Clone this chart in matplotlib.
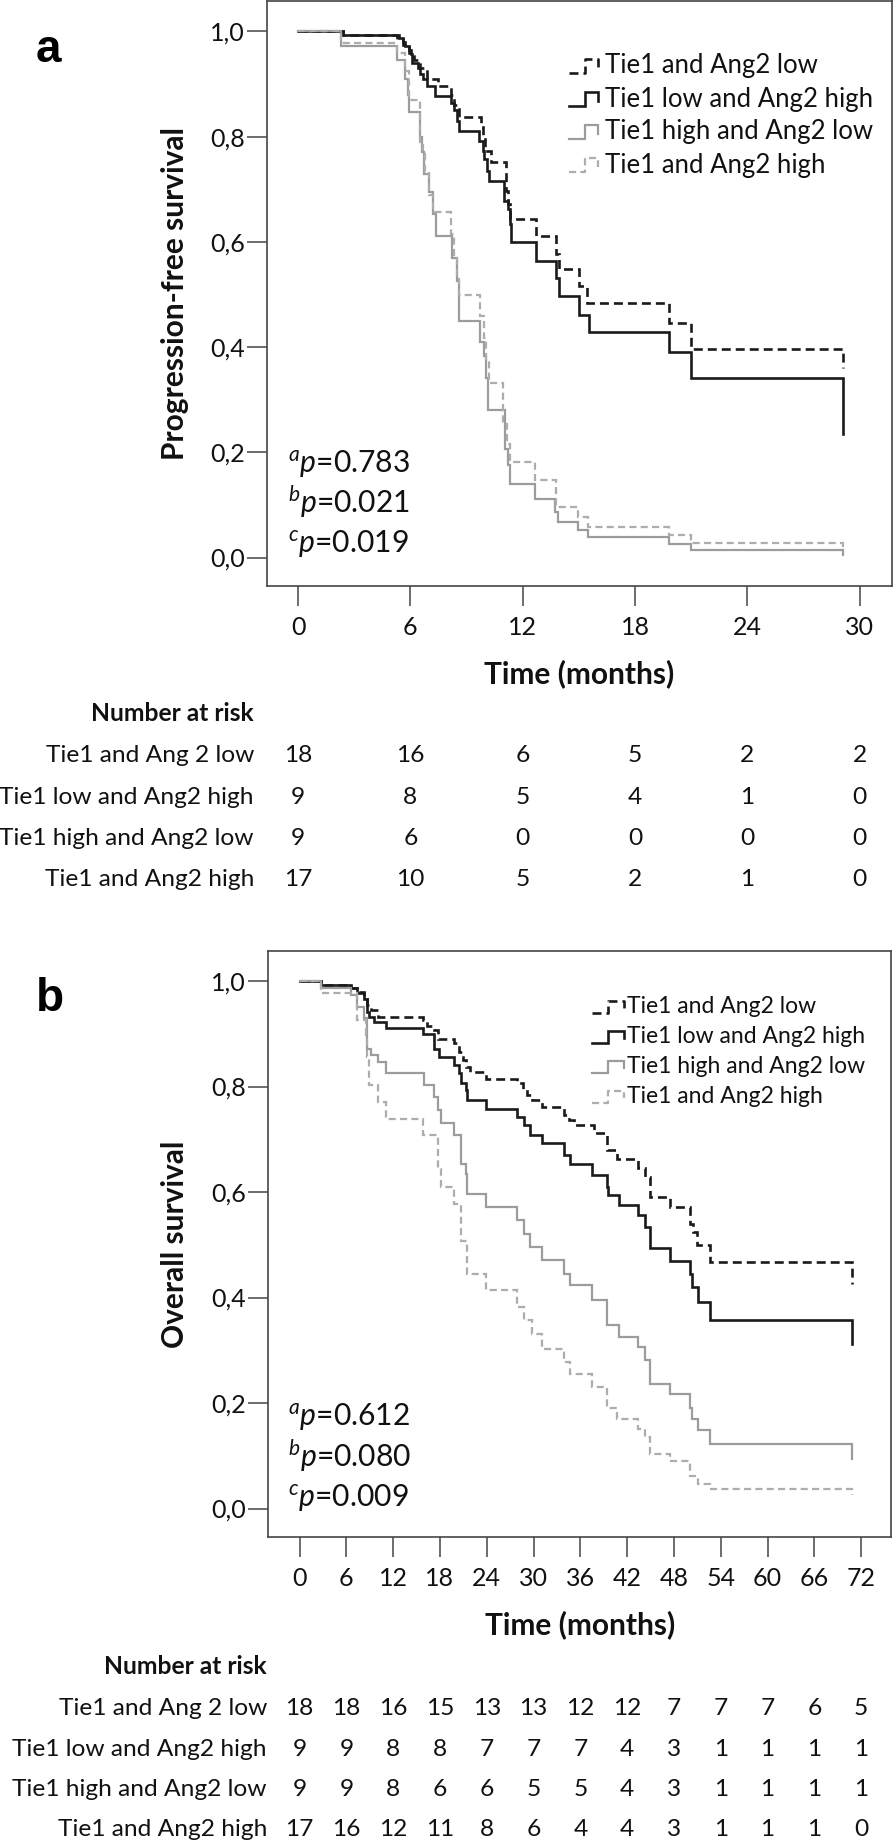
import matplotlib
matplotlib.use("Agg")
import matplotlib.pyplot as plt
from matplotlib.lines import Line2D
from matplotlib import transforms
from matplotlib.ticker import FuncFormatter, FixedLocator

# ---------------- data ----------------
groups = ["Tie1 and Ang2 low", "Tie1 low and Ang2 high",
          "Tie1 high and Ang2 low", "Tie1 and Ang2 high"]
table_labels = ["Tie1 and Ang 2 low", "Tie1 low and Ang2 high",
                "Tie1 high and Ang2 low", "Tie1 and Ang2 high"]

# Panel a: progression-free survival (step change points)
pfs_t_lowlow = [0, 2.4, 5.3, 5.6, 5.9, 6.2, 6.5, 6.9, 7.46, 8.17, 8.35, 8.6, 9.77, 9.86, 10.0, 10.3,
                11.1, 11.2, 11.3, 12.7, 13.8, 13.95, 15.0, 15.46, 19.8, 21.0]
pfs_s_lowlow = [1.0, 0.994, 0.985, 0.975, 0.96, 0.945, 0.93, 0.91, 0.897, 0.88, 0.86, 0.837, 0.818, 0.80,
                0.773, 0.751, 0.697, 0.672, 0.644, 0.611, 0.577, 0.548, 0.516, 0.483, 0.445, 0.397]
pfs_end_lowlow = (29.1, 0.36)

pfs_t_lowhigh = [0, 2.4, 5.4, 5.6, 5.7, 5.9, 6.05, 6.1, 6.4, 6.5, 6.7, 6.9, 7.3, 8.17, 8.35, 8.5, 8.6,
                 9.68, 9.86, 9.95, 10.1, 10.2, 11.0, 11.2, 11.3, 11.4, 12.7, 13.8, 13.95, 15.0, 15.55,
                 19.8, 21.0]
pfs_s_lowhigh = [1.0, 0.994, 0.988, 0.98, 0.973, 0.965, 0.957, 0.94, 0.93, 0.92, 0.91, 0.897, 0.878,
                 0.865, 0.85, 0.83, 0.81, 0.792, 0.773, 0.757, 0.735, 0.716, 0.678, 0.662, 0.634, 0.60,
                 0.564, 0.532, 0.497, 0.462, 0.428, 0.39, 0.341]
pfs_end_lowhigh = (29.1, 0.234)

pfs_t_highlow = [0, 2.3, 5.3, 5.7, 5.85, 5.95, 6.5, 6.6, 6.75, 7.0, 7.2, 7.35, 8.2, 8.5, 8.6, 9.7,
                 9.95, 10.05, 10.17, 11.06, 11.24, 11.32, 12.66, 13.73, 13.9, 14.97, 15.5, 19.8, 21.0]
pfs_s_highlow = [1.0, 0.972, 0.945, 0.91, 0.88, 0.846, 0.80, 0.77, 0.73, 0.694, 0.653, 0.612, 0.57,
                 0.525, 0.45, 0.41, 0.383, 0.342, 0.281, 0.207, 0.175, 0.14, 0.111, 0.086, 0.067,
                 0.053, 0.039, 0.026, 0.015]
pfs_end_highlow = (29.1, 0.004)

pfs_t_highhigh = [0, 2.3, 5.3, 5.7, 5.9, 6.5, 6.7, 6.8, 7.0, 7.2, 8.17, 8.35, 8.5, 8.6, 9.7, 9.95,
                  10.05, 10.2, 10.97, 11.15, 11.32, 12.66, 13.77, 14.97, 15.5, 19.8, 21.0]
pfs_s_highhigh = [1.0, 0.978, 0.96, 0.925, 0.87, 0.79, 0.767, 0.735, 0.69, 0.656, 0.615, 0.57, 0.53,
                  0.50, 0.459, 0.418, 0.373, 0.332, 0.254, 0.216, 0.181, 0.148, 0.096, 0.077, 0.059,
                  0.042, 0.027]
pfs_end_highhigh = (29.1, 0.015)

# Panel b: overall survival
os_t_lowlow = [0, 2.75, 6.6, 7.4, 8.3, 8.7, 9.15, 10.0, 15.8, 16.4, 17.3, 17.7, 19.8, 20.5, 20.9,
               21.3, 21.9, 23.9, 27.9, 28.6, 29.2, 29.8, 31.1, 33.9, 34.5, 35.2, 37.7, 39.4, 40.7,
               43.4, 44.3, 44.9, 47.5, 50.0, 50.4, 50.9, 52.6]
os_s_lowlow = [1.0, 0.992, 0.986, 0.98, 0.965, 0.954, 0.945, 0.931, 0.926, 0.915, 0.907, 0.891,
               0.882, 0.866, 0.85, 0.837, 0.828, 0.815, 0.806, 0.796, 0.784, 0.774, 0.762, 0.746,
               0.737, 0.727, 0.711, 0.679, 0.663, 0.645, 0.629, 0.591, 0.572, 0.54, 0.524, 0.499,
               0.467]
os_end_lowlow = (70.8, 0.426)

os_t_lowhigh = [0, 2.75, 6.6, 7.4, 8.3, 8.7, 8.9, 9.6, 11.1, 15.8, 17.3, 17.9, 19.8, 20.5, 20.7,
                21.3, 21.5, 23.9, 27.9, 28.8, 29.6, 31.1, 33.9, 34.7, 37.5, 39.4, 39.6, 40.9, 43.4,
                44.3, 44.9, 47.5, 50.0, 50.3, 51.1, 52.6]
os_s_lowhigh = [1.0, 0.992, 0.986, 0.977, 0.965, 0.942, 0.932, 0.923, 0.91, 0.90, 0.872, 0.856,
                0.84, 0.825, 0.806, 0.793, 0.774, 0.758, 0.743, 0.727, 0.708, 0.692, 0.67, 0.654,
                0.632, 0.61, 0.594, 0.575, 0.556, 0.534, 0.493, 0.47, 0.445, 0.42, 0.392, 0.358]
os_end_lowhigh = (70.8, 0.312)

os_t_highlow = [0, 2.75, 6.6, 7.4, 8.3, 8.7, 9.15, 10.0, 11.1, 16.0, 17.3, 17.7, 18.1, 19.8, 20.7,
                21.3, 21.5, 23.9, 27.9, 28.8, 29.6, 31.1, 33.9, 34.7, 37.5, 39.4, 40.9, 43.4, 44.3,
                44.9, 47.5, 50.0, 50.3, 51.1, 52.6]
os_s_highlow = [1.0, 0.986, 0.973, 0.951, 0.93, 0.872, 0.86, 0.847, 0.825, 0.803, 0.78, 0.755,
                0.73, 0.708, 0.654, 0.635, 0.597, 0.572, 0.546, 0.521, 0.496, 0.471, 0.445, 0.423,
                0.395, 0.347, 0.325, 0.306, 0.281, 0.236, 0.217, 0.19, 0.17, 0.148, 0.122]
os_end_highlow = (70.8, 0.094)

os_t_highhigh = [0, 2.75, 7.4, 8.5, 8.7, 8.9, 10.0, 11.1, 15.8, 17.7, 18.1, 19.8, 20.7, 21.5, 23.9,
                 27.9, 28.8, 29.8, 31.1, 33.9, 34.7, 37.5, 39.4, 40.7, 43.4, 44.3, 44.9, 47.5, 50.0,
                 51.1, 52.6]
os_s_highhigh = [1.0, 0.977, 0.926, 0.897, 0.856, 0.803, 0.771, 0.738, 0.708, 0.644, 0.61, 0.578,
                 0.508, 0.445, 0.414, 0.382, 0.357, 0.331, 0.303, 0.278, 0.255, 0.23, 0.19, 0.17,
                 0.151, 0.135, 0.103, 0.09, 0.062, 0.046, 0.037]
os_end_highhigh = (70.8, 0.025)

# Number at risk
risk_times_a = [0, 6, 12, 18, 24, 30]
risk_a_lowlow = [18, 16, 6, 5, 2, 2]
risk_a_lowhigh = [9, 8, 5, 4, 1, 0]
risk_a_highlow = [9, 6, 0, 0, 0, 0]
risk_a_highhigh = [17, 10, 5, 2, 1, 0]

risk_times_b = [0, 6, 12, 18, 24, 30, 36, 42, 48, 54, 60, 66, 72]
risk_b_lowlow = [18, 18, 16, 15, 13, 13, 12, 12, 7, 7, 7, 6, 5]
risk_b_lowhigh = [9, 9, 8, 8, 7, 7, 7, 4, 3, 1, 1, 1, 1]
risk_b_highlow = [9, 9, 8, 6, 6, 5, 5, 4, 3, 1, 1, 1, 1]
risk_b_highhigh = [17, 16, 12, 11, 8, 6, 4, 4, 3, 1, 1, 1, 0]

pvals_a = [("a", "0.783"), ("b", "0.021"), ("c", "0.019")]
pvals_b = [("a", "0.612"), ("b", "0.080"), ("c", "0.009")]

xticks_a = [0, 6, 12, 18, 24, 30]
xticks_b = [0, 6, 12, 18, 24, 30, 36, 42, 48, 54, 60, 66, 72]
yticks = [0.0, 0.2, 0.4, 0.6, 0.8, 1.0]

# ---------------- styling ----------------
plt.rcParams["font.family"] = ["Lato", "DejaVu Sans"]
plt.rcParams["mathtext.fontset"] = "custom"
plt.rcParams["mathtext.rm"] = "Lato"
plt.rcParams["mathtext.it"] = "Lato:italic"
plt.rcParams["mathtext.bf"] = "Lato:bold"

STYLES = [
    dict(color="#1a1a1a", lw=1.9, ls=(0, (3.4, 1.9))),
    dict(color="#1a1a1a", lw=1.9, ls="-"),
    dict(color="#9c9c9c", lw=1.6, ls="-"),
    dict(color="#adadad", lw=1.6, ls=(0, (3.2, 1.9))),
]
FRAME = "#454545"

W, H = 895, 1842
fig = plt.figure(figsize=(W / 100, H / 100), dpi=100)
fig.patch.set_facecolor("white")


def fx(px):
    return px / W


def fy(py):
    return 1 - py / H


def fitted_size(s, target, vertical=False, **kw):
    t = fig.text(0.5, 0.5, s, **kw)
    r = fig.canvas.get_renderer()
    bb = t.get_window_extent(renderer=r)
    cur = bb.height if vertical else bb.width
    size = t.get_fontsize() * target / cur
    t.remove()
    return size


def make_axes(left, right, top, bottom, xlim, ylim, xticks):
    ax = fig.add_axes([fx(left), fy(bottom), (right - left) / W, (bottom - top) / H])
    ax.set_xlim(*xlim)
    ax.set_ylim(*ylim)
    for side in ["top", "right", "left", "bottom"]:
        ax.spines[side].set_color(FRAME)
        ax.spines[side].set_linewidth(1.2)
    ax.xaxis.set_major_locator(FixedLocator(xticks))
    ax.yaxis.set_major_locator(FixedLocator(yticks))
    ax.yaxis.set_major_formatter(FuncFormatter(lambda v, p: f"{v:.1f}".replace(".", ",")))
    ax.tick_params(axis="both", direction="out", length=14.5, width=1.1, color=FRAME,
                   labelsize=18, labelcolor="#111111")
    ax.tick_params(axis="x", pad=7.2)
    ax.tick_params(axis="y", pad=1.5)
    return ax


ax_a = make_axes(267, 892, 1.5, 586, (-1.66, 31.73), (-0.0541, 1.057), xticks_a)
ax_b = make_axes(268, 891, 951, 1537, (-4.04, 75.83), (-0.054, 1.0569), xticks_b)


def draw_curve(ax, t, s, end, style, z):
    xs = list(t) + [end[0], end[0]]
    ys = list(s) + [s[-1], end[1]]
    ax.plot(xs, ys, drawstyle="steps-post", color=style["color"], lw=style["lw"],
            ls=style["ls"], zorder=z, solid_joinstyle="miter", dash_joinstyle="miter")


curves_a = [(pfs_t_lowlow, pfs_s_lowlow, pfs_end_lowlow),
            (pfs_t_lowhigh, pfs_s_lowhigh, pfs_end_lowhigh),
            (pfs_t_highlow, pfs_s_highlow, pfs_end_highlow),
            (pfs_t_highhigh, pfs_s_highhigh, pfs_end_highhigh)]
curves_b = [(os_t_lowlow, os_s_lowlow, os_end_lowlow),
            (os_t_lowhigh, os_s_lowhigh, os_end_lowhigh),
            (os_t_highlow, os_s_highlow, os_end_highlow),
            (os_t_highhigh, os_s_highhigh, os_end_highhigh)]

zorders = [3, 4, 5, 6]
for ax, curves in [(ax_a, curves_a), (ax_b, curves_b)]:
    for (t, s, end), st, z in zip(curves, STYLES, zorders):
        draw_curve(ax, t, s, end, st, z)


# ---------------- legends (step-shaped icons like SPSS) ----------------
def draw_legend(x0, xstep, x1, xtext, baselines, hgt, target_w):
    size = fitted_size(groups[1], target_w)
    for lab, st, yb in zip(groups, STYLES, baselines):
        xs = [x0, xstep, xstep, x1, x1]
        ys = [yb, yb, yb - hgt, yb - hgt, yb - 0.4 * hgt]
        fig.add_artist(Line2D([fx(v) for v in xs], [fy(v) for v in ys],
                              transform=fig.transFigure, color=st["color"], lw=st["lw"],
                              ls=st["ls"], solid_joinstyle="miter"))
        fig.text(fx(xtext), fy(yb), lab, fontsize=size, ha="left", va="baseline",
                 color="#111111")


draw_legend(569, 585, 598, 605, [73.5, 106.5, 139.5, 172.5], 14, 267)
draw_legend(592, 608, 624, 627, [1013, 1043, 1073, 1103], 12, 237)

# ---------------- p-values ----------------
p_size = fitted_size(r"$^{a}p$=0.783", 124)
for letter, val in pvals_a:
    pass
for (letter, val), yb in zip(pvals_a, [473.3, 513.5, 553.5]):
    fig.text(fx(288), fy(yb), rf"$^{{{letter}}}p$={val}", fontsize=p_size, ha="left",
             va="baseline", color="#111111")
for (letter, val), yb in zip(pvals_b, [1426, 1466.7, 1506.7]):
    fig.text(fx(288), fy(yb), rf"$^{{{letter}}}p$={val}", fontsize=p_size, ha="left",
             va="baseline", color="#111111")

# ---------------- axis labels ----------------
lab_size = fitted_size("Time (months)", 191, fontweight="bold")
fig.text(fx(579.5), fy(674), "Time (months)", fontsize=lab_size, fontweight="bold",
         ha="center", va="center", color="#111111")
fig.text(fx(580), fy(1625), "Time (months)", fontsize=lab_size, fontweight="bold",
         ha="center", va="center", color="#111111")
fig.text(fx(175), fy(293.5), "Progression-free survival", fontsize=lab_size,
         fontweight="bold", rotation=90, ha="center", va="center", color="#111111")
fig.text(fx(175), fy(1244), "Overall survival", fontsize=lab_size,
         fontweight="bold", rotation=90, ha="center", va="center", color="#111111")

# panel letters
fig.text(fx(36), fy(62.5), "a", fontsize=33, fontweight="bold", family="Liberation Sans",
         ha="left", va="baseline", color="black")
fig.text(fx(36), fy(1011), "b", fontsize=33, fontweight="bold", family="Liberation Sans",
         ha="left", va="baseline", color="black")

# ---------------- number at risk tables ----------------
row_size = fitted_size(table_labels[1], 254)
nar_size = fitted_size("Number at risk", 163, fontweight="bold")


def draw_table(ax, right_px, nar_base, row_bases, times, rows):
    fig.text(fx(right_px), fy(nar_base), "Number at risk", fontsize=nar_size,
             fontweight="bold", ha="right", va="baseline", color="#111111")
    trans = transforms.blended_transform_factory(ax.transData, fig.transFigure)
    for lab, vals, yb in zip(table_labels, rows, row_bases):
        fig.text(fx(right_px), fy(yb), lab, fontsize=row_size, ha="right", va="baseline",
                 color="#111111")
        for tt, v in zip(times, vals):
            fig.text(tt, fy(yb), str(v), transform=trans, fontsize=row_size, ha="center",
                     va="baseline", color="#111111")


draw_table(ax_a, 254, 720.5, [762, 803.5, 845, 886], risk_times_a,
           [risk_a_lowlow, risk_a_lowhigh, risk_a_highlow, risk_a_highhigh])
draw_table(ax_b, 267, 1674, [1715, 1756, 1796, 1836], risk_times_b,
           [risk_b_lowlow, risk_b_lowhigh, risk_b_highlow, risk_b_highhigh])

fig.savefig("out.png", dpi=100, facecolor="white")
